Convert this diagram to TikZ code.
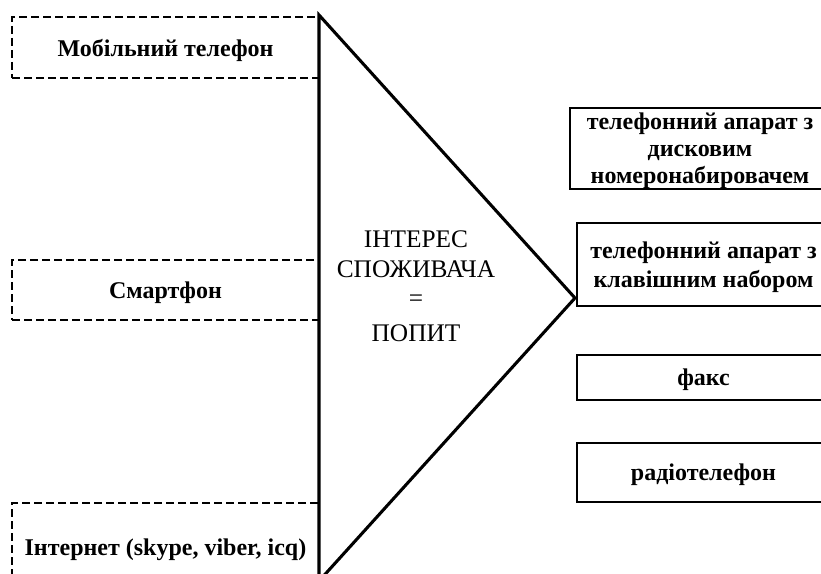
\documentclass[tikz,border=0pt]{standalone}
\usepackage{fontspec}
\setmainfont{Liberation Serif}
\begin{document}
\begin{tikzpicture}[x=0.75pt,y=-0.75pt,
  base/.style={inner sep=0pt, outer sep=0pt, align=center, text depth=0pt, font=\fontsize{18}{18.75}\selectfont\bfseries},
  dbox/.style={base, draw, line width=1.5pt, dash pattern=on 6pt off 3pt, anchor=north west, minimum width=230.25pt},
  rbox/.style={base, draw, line width=1.6pt, anchor=north west, minimum width=189.75pt},
  tri/.style={line width=2.3pt, line join=miter}]
\useasboundingbox (0,0) rectangle (821,574);
\clip (0,0) rectangle (821,574);
\fill[white] (0,0) rectangle (821,574);
% left dashed boxes
\node[dbox, minimum height=45.75pt] (mob) at (12,17) {Мобільний телефон};
\node[dbox, minimum height=45pt] (smart) at (12,260) {Смартфон};
\node[dbox, minimum height=66pt] (inet) at (12,503) {Інтернет (skype, viber, icq)};
% triangle
\coordinate (t1) at (319,15);
\coordinate (t2) at (575,298);
\coordinate (t3) at (319,581);
\draw[tri] (t1) -- (t2) -- (t3) -- cycle;
\node[base, font=\fontsize{19}{22}\selectfont] (c) at (416,286) {ІНТЕРЕС\\СПОЖИВАЧА\\=\\[4pt]ПОПИТ};
% right boxes
\node[rbox, minimum width=195pt, minimum height=60.75pt, font=\fontsize{18}{20.25}\selectfont\bfseries] (r1) at (570,108) {телефонний апарат з\\дисковим\\номеронабировачем};
\node[rbox, minimum height=62.25pt, font=\fontsize{18}{21.75}\selectfont\bfseries] (r2) at (577,223) {телефонний апарат з\\клавішним набором};
\node[rbox, minimum height=33.75pt] (r3) at (577,355) {факс};
\node[rbox, minimum height=44.25pt] (r4) at (577,443) {радіотелефон};
\end{tikzpicture}
\end{document}
